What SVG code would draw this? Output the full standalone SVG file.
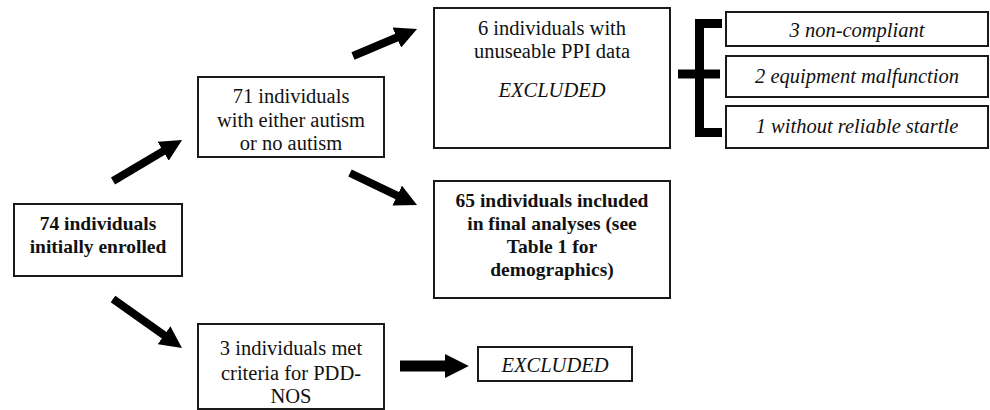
<svg xmlns="http://www.w3.org/2000/svg" width="990" height="410" viewBox="0 0 990 410">
<style>
.box{fill:#fff;stroke:#1a1a1a;stroke-width:2}
text{font-family:"Liberation Serif","Times New Roman",Tinos,"Noto Serif","DejaVu Serif",FreeSerif,serif;font-size:20.5px;fill:#111;text-anchor:middle}
.b{font-weight:bold;font-size:19.5px}
.i{font-style:italic}
.arr{stroke:#000;stroke-width:8;fill:none}
</style>
<defs>
<marker id="ah" markerUnits="userSpaceOnUse" viewBox="0 0 10 10" refX="5" refY="5" markerWidth="22" markerHeight="22" orient="auto">
<path d="M0,0 L10,5 L0,10 Z" fill="#000"/>
</marker>
<marker id="ah2" markerUnits="userSpaceOnUse" viewBox="0 0 10 10" refX="3" refY="5" markerWidth="24" markerHeight="26" orient="auto">
<path d="M0,0 L10,5 L0,10 Z" fill="#000"/>
</marker>
</defs>
<rect width="990" height="410" fill="#fff"/>
<g id="connectors">
<line class="arr" x1="113" y1="181" x2="172.6" y2="145.6" marker-end="url(#ah)"/>
<line class="arr" x1="353" y1="56" x2="406.9" y2="33.3" marker-end="url(#ah)"/>
<line class="arr" x1="350" y1="173" x2="407.1" y2="200.3" marker-end="url(#ah)"/>
<line class="arr" x1="113" y1="299" x2="173" y2="341.6" marker-end="url(#ah)"/>
<line class="arr" x1="400" y1="366" x2="452" y2="366" style="stroke-width:11" marker-end="url(#ah2)"/>
<path d="M722,23.5 H699.5 V132.5 H722 M678,74 H720" stroke="#000" stroke-width="9" fill="none"/>
</g>
<g id="n74">
<rect class="box" x="14" y="204" width="168" height="72"/>
<text class="b" x="98" y="230">74 individuals</text>
<text class="b" x="98" y="253">initially enrolled</text>
</g>
<g id="n71">
<rect class="box" x="198" y="77" width="186" height="80"/>
<text x="291" y="103">71 individuals</text>
<text x="291" y="127">with either autism</text>
<text x="291" y="150">or no autism</text>
</g>
<g id="n6">
<rect class="box" x="434" y="8" width="236" height="140"/>
<text x="552" y="35">6 individuals with</text>
<text x="552" y="58">unuseable PPI data</text>
<text class="i" x="552" y="97">EXCLUDED</text>
</g>
<g id="n65">
<rect class="box" x="434" y="181" width="236" height="117"/>
<text class="b" x="552" y="207">65 individuals included</text>
<text class="b" x="552" y="230">in final analyses (see</text>
<text class="b" x="552" y="253">Table 1 for</text>
<text class="b" x="552" y="276">demographics)</text>
</g>
<g id="n3">
<rect class="box" x="198" y="324" width="186" height="85"/>
<text x="291" y="355">3 individuals met</text>
<text x="291" y="380">criteria for PDD-</text>
<text x="291" y="403">NOS</text>
</g>
<g id="nexcl">
<rect class="box" x="478" y="347" width="154" height="34"/>
<text class="i" x="555" y="372">EXCLUDED</text>
</g>
<g id="nnc">
<rect class="box" x="726" y="12" width="262" height="34"/>
<text class="i" x="857" y="37">3 non-compliant</text>
</g>
<g id="neq">
<rect class="box" x="726" y="56" width="262" height="41"/>
<text class="i" x="857" y="83">2 equipment malfunction</text>
</g>
<g id="nrs">
<rect class="box" x="726" y="106" width="262" height="42"/>
<text class="i" x="857" y="133">1 without reliable startle</text>
</g>
</svg>
